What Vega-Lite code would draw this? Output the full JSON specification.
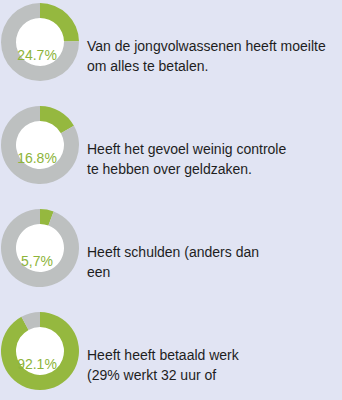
{
  "$schema": "https://vega.github.io/schema/vega-lite/v6.json",
  "background": "#e1e4f3",
  "padding": {"left": 1, "top": 3, "right": 5, "bottom": 10},
  "data": {
    "values": [
      {"order": 1, "desc": ["Van de jongvolwassenen heeft moeilte", "om alles te betalen."], "cat": "ja", "value": 24.7, "label": "24.7%"},
      {"order": 1, "desc": ["Van de jongvolwassenen heeft moeilte", "om alles te betalen."], "cat": "nee", "value": 75.3, "label": "24.7%"},
      {"order": 2, "desc": ["Heeft het gevoel weinig controle", "te hebben over geldzaken."], "cat": "ja", "value": 16.8, "label": "16.8%"},
      {"order": 2, "desc": ["Heeft het gevoel weinig controle", "te hebben over geldzaken."], "cat": "nee", "value": 83.2, "label": "16.8%"},
      {"order": 3, "desc": ["Heeft schulden (anders dan", "een"], "cat": "ja", "value": 5.7, "label": "5,7%"},
      {"order": 3, "desc": ["Heeft schulden (anders dan", "een"], "cat": "nee", "value": 94.3, "label": "5,7%"},
      {"order": 4, "desc": ["Heeft heeft betaald werk", "(29% werkt 32 uur of"], "cat": "ja", "value": 92.1, "label": "92.1%"},
      {"order": 4, "desc": ["Heeft heeft betaald werk", "(29% werkt 32 uur of"], "cat": "nee", "value": 7.9, "label": "92.1%"}
    ]
  },
  "spacing": 8,
  "hconcat": [
    {
      "facet": {"row": {"field": "order", "type": "ordinal", "header": null}},
      "spacing": {"row": 25},
      "spec": {
        "width": 78,
        "height": 78,
        "layer": [
          {
            "transform": [{"filter": "datum.cat == 'ja'"}],
            "mark": {"type": "point", "filled": true, "shape": "circle", "size": 2450, "color": "white", "opacity": 1, "strokeWidth": 0},
            "encoding": {}
          },
          {
            "mark": {"type": "arc", "outerRadius": 39, "innerRadius": 24},
            "encoding": {
              "theta": {"field": "value", "type": "quantitative", "stack": true},
              "order": {"field": "cat", "sort": "ascending"},
              "color": {
                "field": "cat",
                "type": "nominal",
                "scale": {"domain": ["ja", "nee"], "range": ["#95b83f", "#bdc0c0"]},
                "legend": null
              }
            }
          },
          {
            "transform": [{"filter": "datum.cat == 'ja'"}],
            "mark": {"type": "text", "font": "Liberation Sans", "fontSize": 14, "color": "#8db43a", "dy": 14, "dx": -3},
            "encoding": {"text": {"field": "label"}}
          }
        ]
      }
    },
    {
      "transform": [{"filter": "datum.cat == 'ja'"}],
      "facet": {"row": {"field": "order", "type": "ordinal", "header": null}},
      "spacing": {"row": 25},
      "spec": {
        "width": 250,
        "height": 78,
        "mark": {"type": "text", "font": "Liberation Sans", "fontSize": 14, "color": "#1e1e1e", "align": "left", "baseline": "top", "lineHeight": 20, "dy": -2},
        "encoding": {
          "x": {"datum": 0, "type": "quantitative", "scale": {"domain": [0, 1]}, "axis": null},
          "text": {"field": "desc"}
        }
      }
    }
  ],
  "config": {"view": {"stroke": null}}
}
